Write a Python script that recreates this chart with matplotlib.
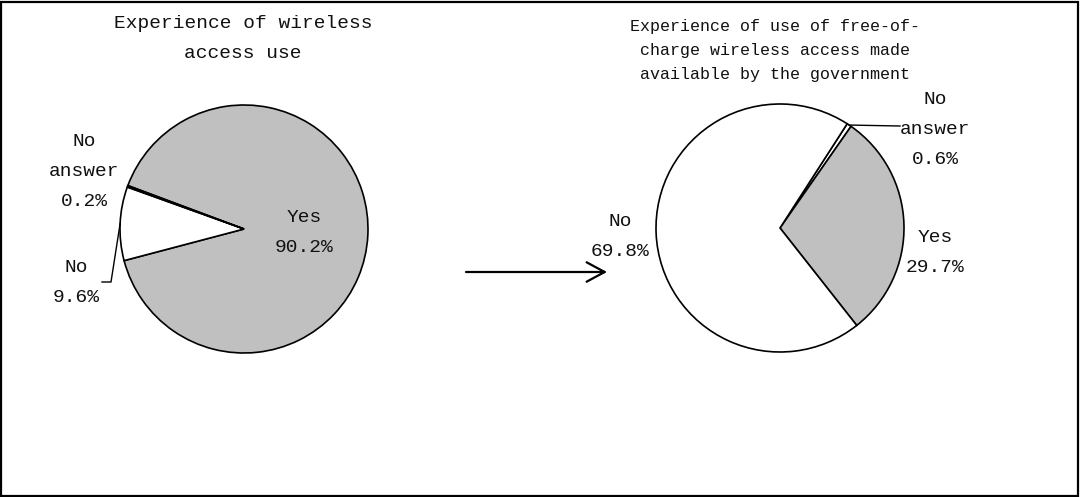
import numpy as np
import matplotlib
matplotlib.use("Agg")
import matplotlib.pyplot as plt
from matplotlib.patches import Rectangle, FancyArrowPatch

# Survey results (percent)
left_title = "Experience of wireless\naccess use"
left_labels = ["Yes", "No", "No\nanswer"]
left_values = [90.2, 9.6, 0.2]

right_title = ("Experience of use of free-of-\ncharge wireless access made\n"
               "available by the government")
right_labels = ["No\nanswer", "Yes", "No"]
right_values = [0.6, 29.7, 69.8]

GRAY = "#c0c0c0"
WHITE = "#ffffff"
left_colors = [GRAY, WHITE, WHITE]
right_colors = [WHITE, GRAY, WHITE]

FONT = ["Liberation Mono", "DejaVu Sans Mono"]
W, H = 1081, 497

fig = plt.figure(figsize=(W / 100, H / 100), dpi=100)
ax = fig.add_axes([0, 0, 1, 1])


def px(x, y):
    """Convert pixel position (y measured from top) into axes data coordinates."""
    return x, H - y


def draw_pie(values, colors, center, radius, start):
    wedges, _ = ax.pie(values, colors=colors, startangle=start, counterclock=False,
                       center=center, radius=radius,
                       wedgeprops=dict(edgecolor="black", linewidth=1.2))
    return wedges


def edge_point(wedge, frac=1.0):
    ang = np.deg2rad((wedge.theta1 + wedge.theta2) / 2)
    cx, cy = wedge.center
    return cx + wedge.r * frac * np.cos(ang), cy + wedge.r * frac * np.sin(ang)


def label(text, x, y, size=14.0, spacing=2.0):
    ax.text(*px(x, y), text, ha="center", va="center", fontsize=size,
            family=FONT, linespacing=spacing, color="#111111")


# Left pie
lw = draw_pie(left_values, left_colors, px(244, 229), 124, 159.5)
# Right pie
rw = draw_pie(right_values, right_colors, px(780, 228), 124, 57.2)

ax.set_xlim(0, W)
ax.set_ylim(0, H)
ax.set_aspect("equal")
ax.axis("off")

# Titles
label(left_title, 243, 38, size=14.0, spacing=2.0)
label(right_title, 775, 51, size=12.0, spacing=1.75)

# Left pie labels
label(f"{left_labels[0]}\n{left_values[0]:.1f}%", 304, 233)
label(f"{left_labels[2]}\n{left_values[2]:.1f}%", 84, 172)
label(f"{left_labels[1]}\n{left_values[1]:.1f}%", 76, 282)
x0, y0 = edge_point(lw[1])
ax.plot([x0, 111, 102], [y0, H - 282, H - 282], color="black", lw=1.0)

# Right pie labels
label(f"{right_labels[0]}\n{right_values[0]:.1f}%", 935, 130)
label(f"{right_labels[1]}\n{right_values[1]:.1f}%", 935, 253)
label(f"{right_labels[2]}\n{right_values[2]:.1f}%", 620, 237)
x1, y1 = edge_point(rw[0])
ax.plot([x1, 900], [y1, H - 126], color="black", lw=1.0)

# Arrow between the two charts
arrow = FancyArrowPatch(px(466, 272), px(607, 272),
                        arrowstyle="->,head_length=13,head_width=7",
                        mutation_scale=1, lw=1.6, color="black",
                        shrinkA=0, shrinkB=0)
ax.add_patch(arrow)

# Outer frame
fig.patches.append(Rectangle((1 / W, 1.5 / H), (W - 4.5) / W, (H - 3.5) / H,
                             transform=fig.transFigure, fill=False,
                             edgecolor="black", lw=1.6))

fig.savefig("out.png", dpi=100, facecolor="white")
